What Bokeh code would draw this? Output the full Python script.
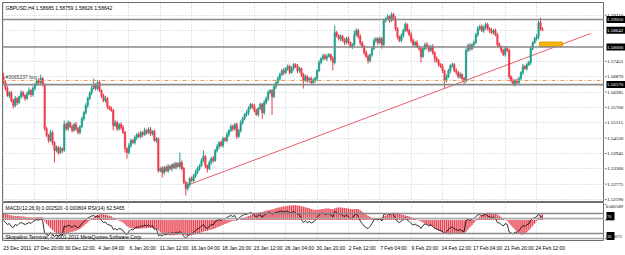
import numpy as np
from bokeh.plotting import figure
from bokeh.layouts import column, row
from bokeh.models import Range1d, LinearAxis, FixedTicker, Label, Span
from bokeh.embed import file_html
from bokeh.resources import INLINE

# ---------------- data (prices in pips = price * 10000) ----------------
first_open_pips = 15687
close_pips = [
    15665, 15642, 15615, 15626, 15596, 15577, 15604, 15588, 15611, 15626, 15615, 15604, 15622, 15634, 15619, 15642, 15657, 15672, 15665, 15680, 15657,
    15489, 15463, 15444, 15474, 15436, 15406, 15417, 15398, 15413, 15406,
    15505, 15489, 15512, 15497, 15482, 15505, 15489, 15474, 15497,
    15527, 15550, 15577, 15604, 15626, 15642, 15657, 15642, 15665,
    15634, 15615, 15596, 15604, 15573, 15566, 15558,
    15501, 15512, 15489, 15505, 15493, 15474,
    15413, 15398, 15425, 15444, 15436, 15455, 15466, 15459,
    15474, 15466, 15482, 15474, 15486, 15470, 15478, 15444, 15451,
    15329, 15337, 15322, 15341, 15329, 15345, 15337, 15352, 15341, 15356, 15345, 15360, 15337,
    15284, 15261, 15276, 15299, 15291, 15310, 15322, 15337, 15348, 15367,
    15383, 15348, 15337, 15360, 15375, 15367, 15406, 15421, 15436, 15425,
    15451, 15444, 15466, 15482, 15497, 15489, 15505, 15459, 15482, 15512,
    15527, 15543, 15550, 15566, 15581, 15573, 15558, 15543, 15566, 15581,
    15550, 15588, 15604, 15626, 15634, 15611, 15649, 15665, 15680, 15695,
    15710, 15703, 15718, 15726, 15703, 15718, 15733, 15726, 15710, 15718,
    15695, 15672, 15687, 15672, 15680, 15665, 15672, 15680, 15710, 15741,
    15756, 15767, 15756, 15764, 15771, 15756, 15741, 15855, 15844, 15832,
    15840, 15825, 15817, 15832, 15817, 15802, 15809, 15847, 15863, 15840,
    15817, 15802, 15779, 15764, 15748, 15771, 15794, 15825, 15832, 15817,
    15832, 15809, 15901, 15908, 15916, 15901, 15924, 15908, 15870, 15840,
    15825, 15844, 15863, 15886, 15863, 15847, 15825, 15809, 15817, 15802,
    15794, 15764, 15794, 15809, 15802, 15787, 15802, 15779, 15756, 15748,
    15733, 15726, 15710, 15672, 15687, 15710, 15729, 15733, 15710, 15703,
    15687, 15695, 15680, 15672, 15787, 15806, 15794, 15809, 15817, 15847,
    15870, 15878, 15863, 15874, 15886, 15870, 15863, 15855, 15863, 15847,
    15809, 15802, 15787, 15771, 15794, 15787, 15687, 15672, 15657, 15672,
    15665, 15680, 15703, 15726, 15718, 15733, 15741, 15794, 15817, 15832,
    15840, 15893, 15868.5, 15864.2,
]
up_wick_pips = [
    15, 6, 9, 5, 8, 7, 10, 6, 4, 9, 7, 5, 8, 12, 6, 9, 7, 5, 10, 15,
    6, 5, 8, 6, 10, 7, 5, 9, 6, 8, 4, 15, 7, 9, 5, 8, 6, 10, 7, 5,
    8, 6, 9, 7, 5, 11, 23, 6, 8, 9, 5, 7, 10, 6, 4, 8, 6, 9, 7, 5,
    8, 10, 6, 4, 9, 7, 5, 8, 6, 10, 7, 5, 11, 6, 8, 9, 5, 7, 6, 4,
    7, 9, 5, 8, 10, 6, 4, 9, 7, 5, 38, 8, 6, 7, 9, 5, 8, 6, 10, 7,
    5, 9, 23, 6, 4, 8, 7, 10, 6, 9, 5, 8, 7, 6, 10, 4, 9, 7, 5, 8,
    6, 9, 7, 5, 10, 8, 6, 4, 9, 7, 5, 8, 6, 10, 7, 9, 5, 6, 8, 4,
    9, 7, 6, 10, 5, 8, 7, 9, 6, 5, 10, 8, 4, 7, 9, 6, 5, 8, 10, 7,
    6, 9, 5, 8, 7, 10, 6, 4, 9, 27, 7, 5, 8, 6, 10, 7, 9, 5, 6, 15,
    8, 7, 9, 5, 6, 10, 8, 4, 7, 9, 6, 5, 8, 7, 8, 6, 9, 5, 8, 7,
    10, 6, 4, 8, 7, 9, 5, 6, 10, 8, 7, 9, 5, 6, 4, 8, 10, 7, 6, 9,
    5, 8, 7, 6, 10, 4, 9, 7, 5, 8, 6, 9, 7, 10, 5, 6, 8, 7, 9, 5,
    8, 6, 10, 7, 8, 9, 8, 7, 6, 10, 5, 8, 7, 9, 4, 6, 10, 8, 7, 5,
    8, 6, 9, 7, 5, 10, 6, 8, 7, 9, 5, 6, 10, 8, 19, 7.4,
]
dn_wick_pips = [
    6, 8, 5, 9, 7, 11, 6, 10, 4, 8, 7, 9, 5, 6, 10, 7, 8, 6, 5, 9,
    7, 8, 6, 9, 5, 10, 46, 7, 8, 6, 9, 5, 7, 10, 6, 8, 4, 9, 7, 6,
    5, 8, 7, 9, 6, 10, 4, 8, 7, 5, 9, 6, 8, 10, 7, 5, 19, 6, 9, 7,
    8, 6, 15, 23, 7, 9, 5, 8, 10, 6, 7, 9, 4, 8, 6, 10, 7, 5, 9, 8,
    6, 19, 8, 5, 9, 7, 10, 6, 8, 4, 9, 7, 6, 27, 8, 10, 5, 7, 9, 6,
    8, 5, 7, 10, 15, 6, 9, 7, 4, 8, 10, 6, 9, 5, 7, 8, 6, 10, 7, 9,
    5, 8, 7, 6, 9, 10, 4, 8, 7, 5, 9, 6, 23, 8, 7, 10, 5, 70, 6, 9,
    7, 8, 5, 10, 6, 9, 7, 4, 8, 6, 10, 7, 9, 30, 5, 8, 7, 10, 6, 8,
    9, 5, 7, 8, 6, 10, 4, 9, 30, 7, 8, 6, 9, 5, 10, 7, 8, 6, 9, 5,
    7, 8, 10, 6, 9, 5, 11, 7, 8, 6, 9, 10, 5, 15, 7, 8, 6, 9, 5, 7,
    8, 10, 6, 7, 9, 5, 8, 6, 10, 7, 9, 5, 8, 23, 6, 7, 10, 8, 5, 9,
    15, 7, 8, 6, 9, 27, 7, 5, 10, 8, 6, 9, 7, 8, 5, 15, 8, 6, 9, 7,
    10, 5, 8, 7, 6, 9, 8, 7, 10, 5, 8, 6, 9, 7, 10, 5, 8, 6, 9, 7,
    4, 8, 6, 9, 7, 10, 5, 8, 6, 9, 7, 5, 8, 10, 6, 1.6,
]
# MACD main line (units of 1e-4), drawn as histogram
macd_e4 = [
    22, 22, 20, 18, 16, 15, 14, 14, 13, 12, 12, 11, 10, 10, 9, 9, 9, 10, 10, 10, 9,
    -5, -14, -22, -30, -37, -43, -48, -52, -55, -57,
    -54, -51, -48, -45, -43, -41, -39, -36, -33,
    -27, -21, -15, -9, -3, 3, 9, 14, 18,
    20, 21, 20, 19, 17, 15, 13,
    8, 4, 0, -3, -6, -9,
    -16, -23, -27, -29, -31, -32, -32, -32,
    -31, -31, -30, -30, -29, -29, -29, -30, -31,
    -38, -44, -49, -52, -54, -55, -56, -56, -56, -55, -54, -53, -52,
    -54, -57, -58, -57, -56, -54, -52, -50, -48, -45,
    -42, -40, -39, -37, -35, -33, -30, -27, -24, -21,
    -18, -15, -12, -9, -6, -4, -2, -1, 0, 2,
    5, 8, 11, 14, 17, 20, 22, 24, 26, 28,
    29, 31, 33, 35, 37, 38, 40, 42, 44, 46,
    48, 49, 50, 51, 52, 52, 53, 53, 52, 51,
    50, 48, 46, 44, 42, 40, 38, 37, 37, 38,
    39, 40, 41, 41, 41, 40, 39, 42, 44, 45,
    45, 44, 43, 42, 41, 40, 39, 39, 40, 39,
    35, 30, 25, 20, 15, 11, 8, 6, 5, 5,
    6, 8, 12, 16, 20, 23, 25, 26, 26, 25,
    22, 20, 18, 16, 14, 12, 10, 7, 4, 1,
    -2, -5, -9, -13, -16, -19, -22, -26, -30, -34,
    -38, -42, -45, -49, -51, -52, -52, -51, -50, -50,
    -50, -50, -50, -50, -43, -35, -27, -19, -11, -3,
    5, 12, 18, 22, 25, 26, 26, 25, 24, 22,
    19, 15, 10, 5, 0, -3, -12, -20, -28, -36,
    -43, -50, -53, -53, -50, -45, -38, -30, -22, -14,
    -4, 8, 17, 25.2,
]
rsi14 = [
    56, 52, 48, 50, 44, 42, 48, 46, 50, 52, 50, 48, 50, 52, 50, 54, 56, 58, 56, 60, 55,
    30, 28, 26, 32, 28, 24, 27, 24, 28, 27,
    45, 43, 47, 45, 42, 46, 44, 41, 45,
    50, 54, 58, 61, 63, 65, 66, 63, 66,
    60, 56, 52, 53, 48, 47, 46,
    38, 40, 37, 40, 39, 36,
    30, 28, 34, 38, 37, 41, 43, 42,
    45, 44, 47, 45, 47, 44, 46, 38, 40,
    26, 27, 25, 29, 27, 31, 29, 32, 30, 33, 31, 34, 30,
    24, 21, 25, 30, 29, 33, 36, 39, 41, 45,
    48, 42, 40, 45, 48, 47, 54, 56, 58, 56,
    60, 59, 62, 64, 66, 64, 66, 57, 60, 64,
    66, 68, 68, 70, 72, 70, 66, 63, 66, 68,
    62, 67, 69, 71, 72, 68, 71, 72, 73, 74,
    75, 73, 74, 75, 70, 72, 74, 72, 68, 69,
    58, 52, 55, 52, 54, 51, 53, 56, 62, 67,
    70, 71, 68, 69, 70, 67, 63, 74, 72, 69,
    70, 66, 64, 67, 63, 60, 61, 67, 69, 64,
    55, 50, 45, 42, 40, 44, 50, 57, 60, 57,
    60, 55, 68, 69, 70, 67, 71, 67, 60, 54,
    52, 55, 58, 62, 57, 54, 50, 47, 49, 46,
    45, 40, 46, 49, 48, 45, 48, 44, 40, 39,
    37, 36, 34, 29, 33, 38, 42, 43, 39, 38,
    36, 38, 35, 34, 56, 59, 56, 59, 60, 64,
    67, 68, 65, 67, 69, 65, 63, 62, 63, 60,
    52, 51, 48, 45, 50, 48, 33, 31, 29, 33,
    32, 36, 41, 46, 44, 48, 49, 57, 60, 62,
    63, 69, 64, 62.5465,
]

price_ticks = [1.52190, 1.52775, 1.53360, 1.53945, 1.54530, 1.55115, 1.55700,
               1.56285, 1.56870, 1.57455, 1.58040, 1.58625, 1.59210]
hidden_price_ticks = [1.58040, 1.58625]          # covered by the line boxes
level_prices = [1.59050, 1.58000, 1.56570]
bid_price = 1.58642
order_price = 1.56725
order_text = "#3065237 buy"
trend_bar = [93.4, 299.5]
trend_price = [1.52723, 1.58516]
target_bars = [273.5, 285.2]
target_prices = [1.58021, 1.58192]

label_bars = [0, 16, 32, 48, 64, 80, 96, 112, 128, 144, 160, 176, 192, 208, 224, 240, 256, 272]
time_labels = ["23 Dec 2011", "27 Dec 20:00", "30 Dec 12:00", "4 Jan 04:00", "6 Jan 20:00",
               "11 Jan 12:00", "16 Jan 04:00", "18 Jan 20:00", "23 Jan 12:00", "26 Jan 04:00",
               "30 Jan 20:00", "2 Feb 12:00", "7 Feb 04:00", "9 Feb 20:00", "14 Feb 12:00",
               "17 Feb 04:00", "21 Feb 20:00", "24 Feb 12:00"]

macd_ticks = [0.005589, 0.0, -0.00675]
macd_tick_text = ["0.005589", "0.00", "-0.00675"]
macd_tick_baseline = ["top", "middle", "bottom"]
rsi_levels = [70, 60, 30, 20]
rsi_box_centers = [65, 25]
rsi_box_text = ["70", "30"]

title_text = "GBPUSD,H4 1.58685 1.58759 1.58626 1.58642"
sub_title = "MACD(12,26,9) 0.002520 -0.000804 RSI(14) 62.5465"
copyright_text = "Skopalino Terminal, \u00a9 2001-2011 MetaQuotes Software Corp."

# ---------------- styles / layout ----------------
FONT = "Liberation Sans"
FS = "5px"
BULL = "#1E9E8A"
BEAR = "#EE3A4A"
FRAME = "#6E6E6E"
GRID = "#C4CAD6"
CHART_W, SCALE_W = 604, 21
LEFT = 2
PX_PER_BAR = 1.96
x_start = -0.51
x_end = x_start + (CHART_W - LEFT) / PX_PER_BAR
MAIN_H, SUB_H = 202, 53

N = len(close_pips)
for arr in (up_wick_pips, dn_wick_pips, macd_e4, rsi14):
    assert len(arr) == N, (len(arr), N)

idx = np.arange(N)
c = np.array(close_pips, float) / 1e4
o = np.concatenate([[first_open_pips / 1e4], c[:-1]])
top = np.maximum(o, c)
bot = np.minimum(o, c)
hi = top + np.array(up_wick_pips) / 1e4
lo = bot - np.array(dn_wick_pips) / 1e4
cols = np.where(c >= o, BULL, BEAR)

x_rng = Range1d(x_start, x_end)
price_rng = Range1d(1.52076, 1.59698)
macd_rng = Range1d(-0.00748, 0.00632)
rsi_rng = Range1d(16, 92)


def base_fig(w, h, xr, yr, top_border, bottom_border, left_border):
    f = figure(width=w, height=h, x_range=xr, y_range=yr, output_backend="svg",
               toolbar_location=None, x_axis_location=None, y_axis_location=None,
               min_border_left=left_border, min_border_right=0,
               min_border_top=top_border, min_border_bottom=bottom_border)
    f.background_fill_color = "white"
    f.border_fill_color = "white"
    return f


def style_grid(g):
    g.grid_line_color = GRID
    g.grid_line_dash = "1 2"
    g.grid_line_width = 1


# ---------------- main price panel ----------------
p = base_fig(CHART_W, MAIN_H, x_rng, price_rng, 2, 0, LEFT)
p.outline_line_color = FRAME
p.xgrid.ticker = FixedTicker(ticks=label_bars)
p.ygrid.ticker = FixedTicker(ticks=price_ticks)
style_grid(p.xgrid)
style_grid(p.ygrid)

p.add_layout(Span(location=order_price, dimension="width", line_color="#E39B5F",
                  line_width=1, line_dash="4 2 1 2"))
for lv in level_prices:
    p.add_layout(Span(location=lv, dimension="width", line_color="#8A8A8A", line_width=1.6))

p.line(trend_bar, trend_price, line_color="#E4606C", line_width=1)
p.quad(left=[target_bars[0]], right=[target_bars[1]], bottom=[target_prices[0]], top=[target_prices[1]],
       fill_color="#F7B500", line_color="#E2A000", line_width=1)

p.segment(x0=idx, y0=hi, x1=idx, y1=lo, line_color=cols, line_width=1)
p.vbar(x=idx, width=0.7, top=top, bottom=bot, fill_color=cols, line_color=cols, line_width=0.6)

p.add_layout(Label(x=x_start, y=price_rng.end, x_offset=3, y_offset=-2, text=title_text,
                   text_font=FONT, text_font_size=FS, text_color="black", text_baseline="top"))
p.add_layout(Label(x=x_start, y=order_price, x_offset=3, y_offset=1, text=order_text,
                   text_font=FONT, text_font_size=FS, text_color="#404040", text_baseline="bottom"))

# ---------------- price scale strip (right of the chart) ----------------
scale_x = Range1d(0, SCALE_W)
pr = base_fig(SCALE_W, MAIN_H, scale_x, price_rng, 2, 0, 0)
pr.outline_line_color = None
pr.grid.visible = False
shown = [t for t in price_ticks if t not in hidden_price_ticks]
pr.segment(x0=0, x1=2, y0=shown, y1=shown, line_color=FRAME, line_width=1)
pr.text(x=2.5, y=shown, text=[f"{t:.5f}" for t in shown], text_font=FONT, text_font_size=FS,
        text_color="black", text_baseline="middle")
box_vals = level_prices + [bid_price]
pr.rect(x=(SCALE_W + 2) / 2, y=box_vals, width=SCALE_W - 2, height=7, height_units="screen",
        fill_color="black", line_color=None)
pr.text(x=2.5, y=box_vals, text=[f"{v:.5f}" for v in box_vals], text_font=FONT, text_font_size=FS,
        text_color="white", text_baseline="middle")

# ---------------- MACD / RSI sub window ----------------
q = base_fig(CHART_W, SUB_H, x_rng, macd_rng, 0, 15, LEFT)
q.outline_line_color = FRAME
q.extra_y_ranges = {"rsi": rsi_rng}

xax = LinearAxis(ticker=FixedTicker(ticks=[b + 7 for b in label_bars]),
                 major_label_overrides={b + 7: t for b, t in zip(label_bars, time_labels)},
                 major_label_text_font_size=FS, major_label_text_font=FONT,
                 major_label_text_color="black",
                 major_tick_out=0, major_tick_in=0, minor_tick_out=0, minor_tick_in=0,
                 major_label_standoff=4, axis_line_color=None)
q.add_layout(xax, "below")

q.xgrid.ticker = FixedTicker(ticks=label_bars)
q.ygrid.ticker = FixedTicker(ticks=[0.0])
style_grid(q.xgrid)
style_grid(q.ygrid)

m = np.array(macd_e4, float) / 1e4
q.varea(x=idx, y1=np.zeros(N), y2=m, fill_color="#F4A9B0")
q.vbar(x=idx, width=0.45, top=m, bottom=0, fill_color="#E63946", line_color=None)

for lv in rsi_levels:
    q.add_layout(Span(location=lv, dimension="width", y_range_name="rsi",
                      line_color="#8A8A8A" if lv in (70, 30) else "#A8A8A8", line_width=1.3))
q.line(idx, rsi14, y_range_name="rsi", line_color="black", line_width=0.8)

q.add_layout(Label(x=x_start, y=macd_rng.end, x_offset=3, y_offset=-2, text=sub_title,
                   text_font=FONT, text_font_size=FS, text_color="black", text_baseline="top"))
q.add_layout(Label(x=x_start, y=macd_rng.start, x_offset=3, y_offset=1, text=copyright_text,
                   text_font=FONT, text_font_size=FS, text_color="black", text_baseline="bottom"))

# ---------------- MACD scale strip ----------------
qr = base_fig(SCALE_W, SUB_H, scale_x, macd_rng, 0, 15, 0)
qr.outline_line_color = None
qr.grid.visible = False
qr.extra_y_ranges = {"rsi": rsi_rng}
qr.segment(x0=0, x1=1.5, y0=macd_ticks, y1=macd_ticks, line_color=FRAME, line_width=1)
qr.text(x=1.5, y=macd_ticks, text=macd_tick_text, text_baseline=macd_tick_baseline,
        text_font=FONT, text_font_size="4.5px", text_color="black")
qr.rect(x=6, y=rsi_box_centers, width=8, height=8, height_units="screen", y_range_name="rsi",
        fill_color="black", line_color=None)
qr.text(x=2.8, y=rsi_box_centers, text=rsi_box_text, y_range_name="rsi", text_font=FONT,
        text_font_size="4px", text_color="white", text_baseline="middle")

layout = row(column(p, q), column(pr, qr))
open("out.html", "w").write(file_html(layout, INLINE))
